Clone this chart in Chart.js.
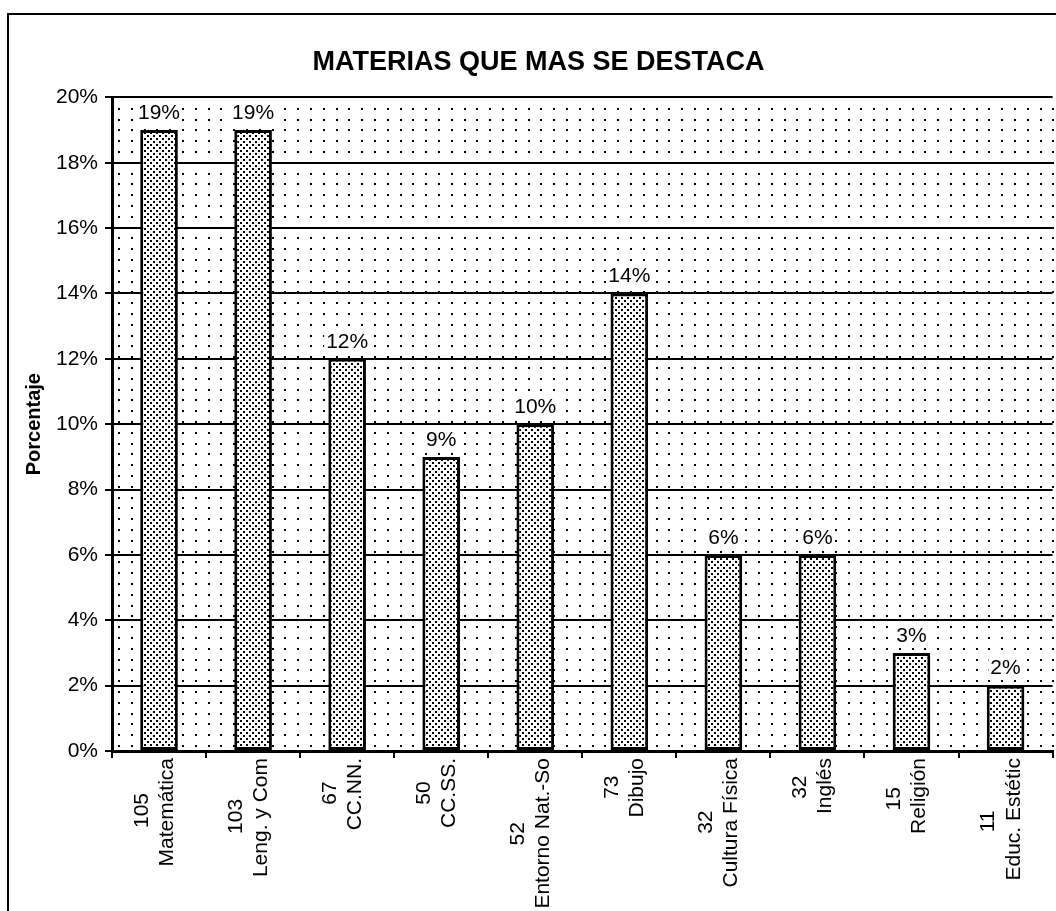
<!DOCTYPE html>
<html>
<head>
<meta charset="utf-8">
<script src="https://cdn.jsdelivr.net/npm/chart.js@4.4.1/dist/chart.umd.min.js"></script>
<style>
    body { margin: 0; background: #fff; overflow: hidden; }
    #wrap { position: relative; width: 1056px; height: 911px; }
    #frame { position: absolute; left: 7px; top: 13px; width: 1100px; height: 1000px;
             border-left: 2px solid #000; border-top: 2px solid #000; }
    canvas { position: absolute; left: 0; top: 0; }
</style>
</head>
<body>
<div id="wrap">
    <div id="frame"></div>
    <canvas id="chart" width="1056" height="911"></canvas>
</div>
<script>
// datos
var materias = ['Matemática', 'Leng. y Com', 'CC.NN.', 'CC.SS.', 'Entorno Nat.-So',
    'Dibujo', 'Cultura Física', 'Inglés', 'Religión', 'Educ. Estétic'];
var cantidades = [105, 103, 67, 50, 52, 73, 32, 32, 15, 11];
var porcentajes = [19, 19, 12, 9, 10, 14, 6, 6, 3, 2];
var yTicks = [0, 2, 4, 6, 8, 10, 12, 14, 16, 18, 20];

var FONT = '"Liberation Sans", Arial, sans-serif';
var labelFont = '21px ' + FONT;

// centrar las dos lineas de cada etiqueta (rotadas) rellenando con espacios
var mctx = document.createElement('canvas').getContext('2d');
mctx.font = labelFont;
function centerLines(lines) {
    var widths = lines.map(l => mctx.measureText(l).width);
    var maxW = Math.max.apply(null, widths);
    var sp = mctx.measureText(' ').width;
    return lines.map(function(l, i) {
        var n = Math.round((maxW - widths[i]) / 2 / sp);
        return l + ' '.repeat(n);
    });
}
var etiquetas = materias.map((m, i) => centerLines([String(cantidades[i]), m]));

// relleno punteado de las barras
function makeBarPattern() {
    var c = document.createElement('canvas');
    c.width = 6; c.height = 6;
    var g = c.getContext('2d');
    g.fillStyle = '#fff';
    g.fillRect(0, 0, 6, 6);
    g.fillStyle = '#000';
    g.fillRect(0, 0, 2, 2);
    g.fillRect(3, 3, 2, 2);
    return g.createPattern(c, 'repeat');
}

// fondo punteado del area de trazado
var dottedBackground = {
    id: 'dottedBackground',
    beforeDraw: function(chart) {
        var ctx = chart.ctx;
        var a = chart.chartArea;
        ctx.save();
        ctx.fillStyle = '#000';
        for (var y = a.bottom - 6; y > a.top; y -= 10.8) {
            for (var x = a.left + 6; x < a.right; x += 12.8) {
                ctx.fillRect(Math.round(x), Math.round(y), 2, 2);
            }
        }
        ctx.restore();
    }
};

// etiquetas de porcentaje sobre las barras
var valueLabels = {
    id: 'valueLabels',
    afterDatasetsDraw: function(chart) {
        var ctx = chart.ctx;
        var meta = chart.getDatasetMeta(0);
        ctx.save();
        ctx.font = labelFont;
        ctx.textAlign = 'center';
        ctx.textBaseline = 'middle';
        meta.data.forEach(function(bar, i) {
            var txt = porcentajes[i] + '%';
            var w = ctx.measureText(txt).width;
            var cy = bar.y - 18;
            ctx.fillStyle = '#fff';
            ctx.fillRect(bar.x - w / 2 - 2, cy - 11, w + 4, 22);
            ctx.fillStyle = '#000';
            ctx.fillText(txt, bar.x, cy + 1);
        });
        ctx.restore();
    }
};

var chart = new Chart(document.getElementById('chart').getContext('2d'), {
    type: 'bar',
    data: {
        labels: etiquetas,
        datasets: [{
            data: porcentajes,
            backgroundColor: makeBarPattern(),
            borderColor: '#000',
            borderWidth: 3,
            borderSkipped: false,
            barPercentage: 0.4,
            categoryPercentage: 1.0
        }]
    },
    plugins: [dottedBackground, valueLabels],
    options: {
        responsive: false,
        animation: false,
        layout: { padding: { left: 22, right: 1, top: 0, bottom: 0 } },
        plugins: {
            legend: { display: false },
            tooltip: { enabled: false },
            title: {
                display: true,
                text: 'MATERIAS QUE MAS SE DESTACA',
                color: '#000',
                font: { family: FONT, size: 27, weight: 'bold', lineHeight: 1.2 },
                padding: { top: 46, bottom: 19 }
            }
        },
        scales: {
            x: {
                afterFit: function(scale) { scale.height = 160; },
                grid: {
                    offset: true,
                    drawOnChartArea: false,
                    color: '#000',
                    lineWidth: 2,
                    tickLength: 7
                },
                border: { color: '#000', width: 3 },
                ticks: {
                    color: '#000',
                    font: { family: FONT, size: 21, lineHeight: 1.2 },
                    autoSkip: false,
                    minRotation: 90,
                    maxRotation: 90,
                    labelOffset: -17,
                    padding: 0
                }
            },
            y: {
                min: 0,
                max: 20,
                afterFit: function(scale) { scale.width = 90; },
                afterBuildTicks: function(scale) {
                    scale.ticks = yTicks.map(v => ({ value: v }));
                },
                grid: {
                    color: '#000',
                    lineWidth: 2,
                    tickLength: 7
                },
                border: { color: '#000', width: 3 },
                ticks: {
                    color: '#000',
                    font: { family: FONT, size: 21 },
                    padding: 7,
                    callback: function(v) { return v + '%'; }
                },
                title: {
                    display: true,
                    text: 'Porcentaje',
                    color: '#000',
                    font: { family: FONT, size: 20, weight: 'bold' },
                    padding: 0
                }
            }
        }
    }
});
</script>
</body>
</html>
